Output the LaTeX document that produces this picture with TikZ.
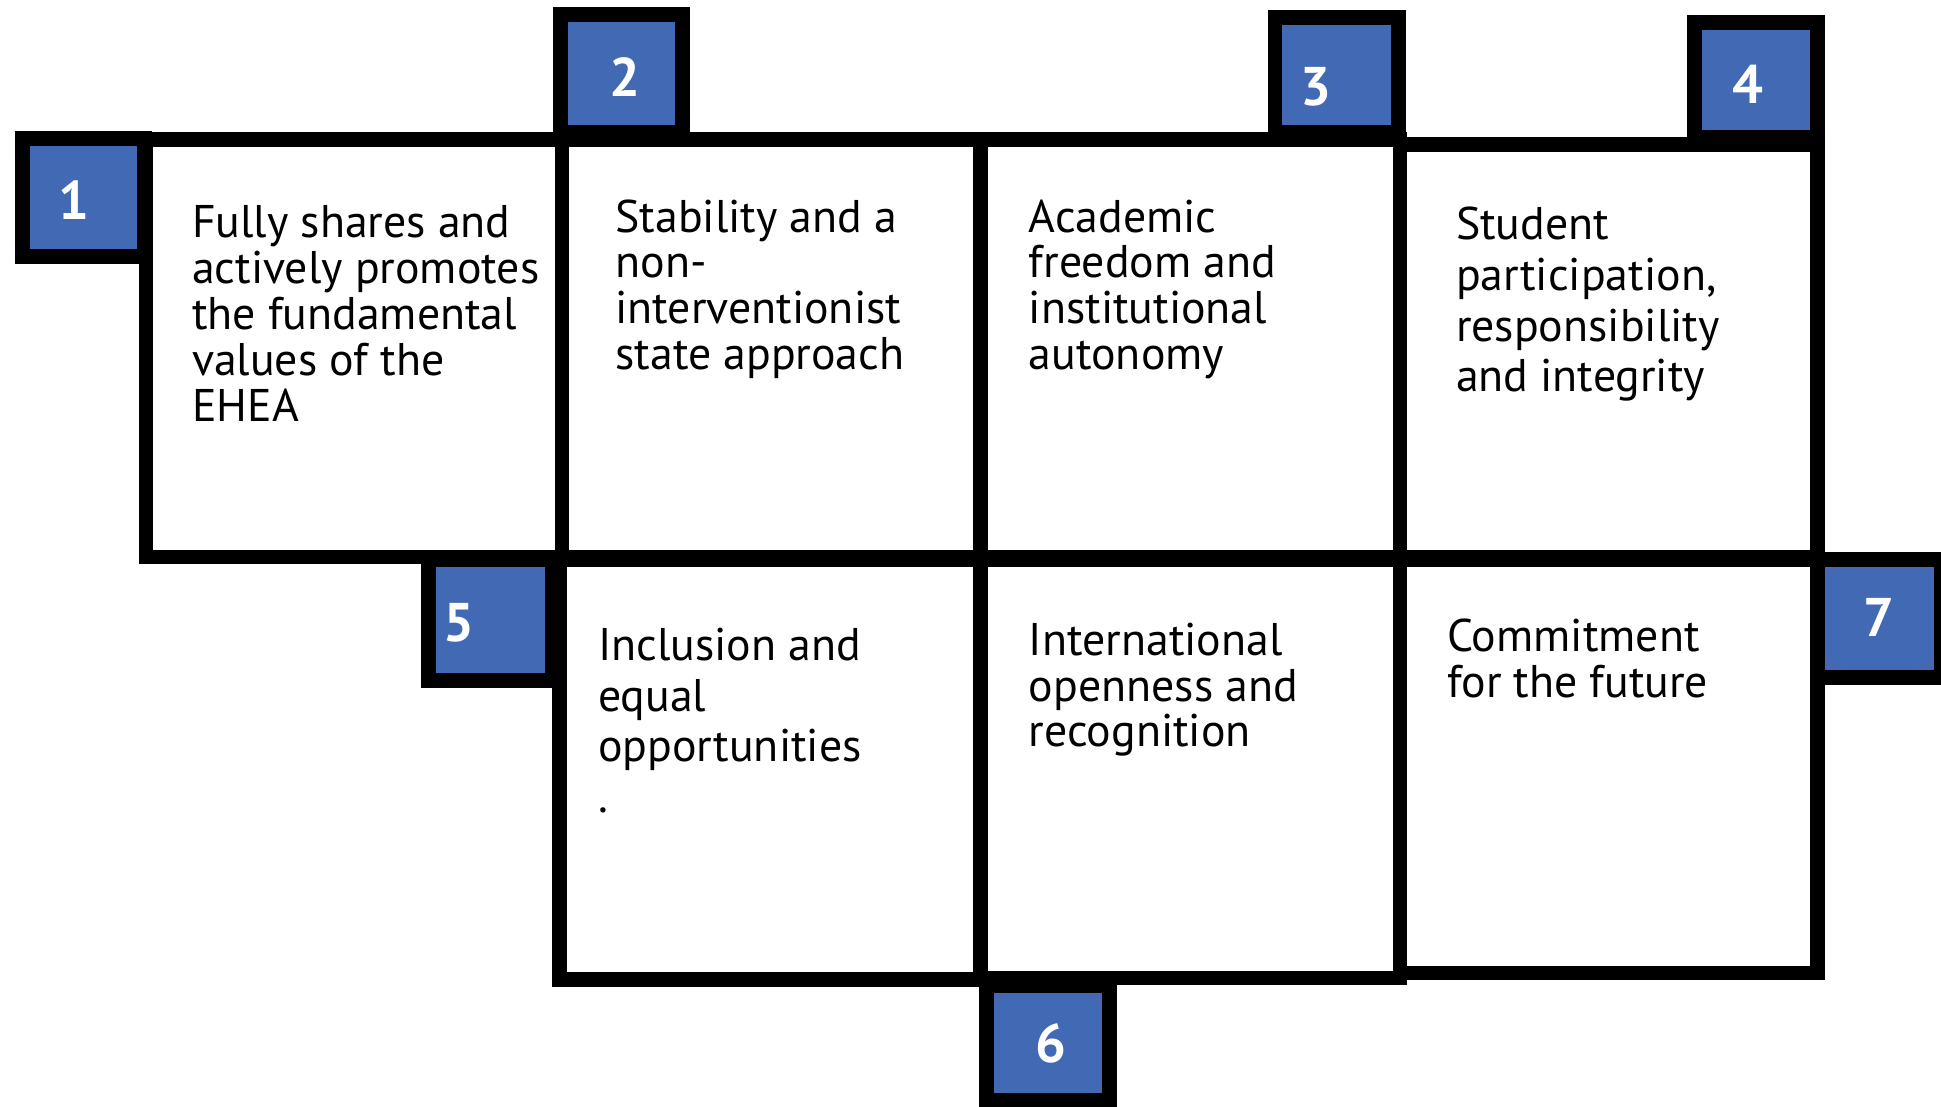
\documentclass[tikz,border=0pt]{standalone}
\usepackage{fontspec}
\setmainfont{PT Sans}
\definecolor{badgeblue}{RGB}{65,105,180}
\tikzset{
  cell/.style={draw=black, line width=12pt, fill=white, inner sep=0pt, rectangle},
  badge/.style={draw=black, line width=12pt, fill=badgeblue, inner sep=0pt, rectangle},
  num/.style={text=white, font=\bfseries\fontsize{44}{44}\selectfont, inner sep=0pt},
  body/.style={align=left, anchor=north west, inner sep=0pt, font=\fontsize{37}{37}\selectfont},
  bodywide/.style={body, font=\fontsize{37}{41}\selectfont}
}
\begin{document}
\begin{tikzpicture}[x=1pt,y=-1pt]
\useasboundingbox (0,0) rectangle (1568,894);
% cells
\node[cell, minimum width=336, minimum height=337] (c1) at (286,281.5) {};
\node[cell, minimum width=338, minimum height=337] (c2) at (623,281.5) {};
\node[cell, minimum width=339, minimum height=337] (c3) at (961.5,281.5) {};
\node[cell, minimum width=337, minimum height=333] (c4) at (1299.5,283.5) {};
\node[cell, minimum width=340, minimum height=339] (c5) at (622,621.5) {};
\node[cell, minimum width=339, minimum height=338] (c6) at (961.5,621) {};
\node[cell, minimum width=337, minimum height=334] (c7) at (1299.5,619) {};
% badges
\node[badge, minimum width=99, minimum height=95] (b1) at (67.5,159.5) {};
\node[badge, minimum width=98, minimum height=95] (b2) at (502,59.5) {};
\node[badge, minimum width=100, minimum height=93] (b3) at (1080,60.5) {};
\node[badge, minimum width=99, minimum height=93] (b4) at (1418.5,64.5) {};
\node[badge, minimum width=100, minimum height=98] (b5) at (396,501) {};
\node[badge, minimum width=99, minimum height=93] (b6) at (846.5,842.5) {};
\node[badge, minimum width=100, minimum height=95] (b7) at (1518,499.5) {};
% numbers
\node[num] (n1) at (60,162) {1};
\node[num] (n2) at (505,62) {2};
\node[num] (n3) at (1063,70) {3};
\node[num] (n4) at (1412,68) {4};
\node[num] (n5) at (371,503) {5};
\node[num] (n6) at (849,843) {6};
\node[num] (n7) at (1518,499) {7};
% texts
\node[body] (t1) at (155,166) {Fully shares and\\actively promotes\\the fundamental\\values of the\\EHEA};
\node[body] (t2) at (497,161) {Stability and a\\non-\\interventionist\\state approach};
\node[body] (t3) at (831,161) {Academic\\freedom and\\institutional\\autonomy};
\node[bodywide] (t4) at (1176,167) {Student\\participation,\\responsibility\\and integrity};
\node[bodywide] (t5) at (483,507) {Inclusion and\\equal\\opportunities\\.};
\node[body] (t6) at (831,503) {International\\openness and\\recognition};
\node[body] (t7) at (1169,500) {Commitment\\for the future};
\end{tikzpicture}
\end{document}
